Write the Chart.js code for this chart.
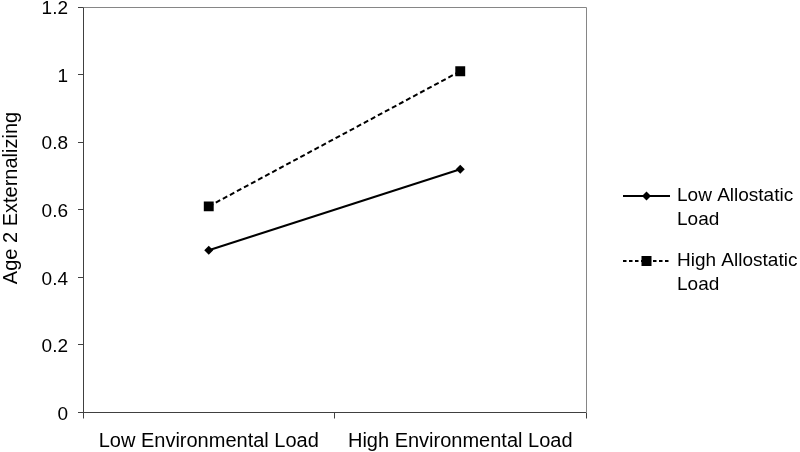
<!DOCTYPE html>
<html>
<head>
<meta charset="utf-8">
<script src="https://cdn.jsdelivr.net/npm/chart.js@4"></script>
<style>
html,body{margin:0;padding:0;background:#fff;}
#wrap{width:800px;height:452px;position:relative;}
</style>
</head>
<body>
<div id="wrap"><canvas id="c"></canvas></div>
<script>
const categories = ['Low Environmental Load', 'High Environmental Load'];
const lowAllostatic = [0.48, 0.72];
const highAllostatic = [0.61, 1.01];
const seriesNames = [['Low Allostatic', 'Load'], ['High Allostatic', 'Load']];
const yTitle = 'Age 2 Externalizing';
const yMin = 0, yMax = 1.2, yStep = 0.2;

const FONT = '"Liberation Sans", Arial, sans-serif';
const FS = 19;
const AXIS = '#404040';
const FRAME = '#868686';

const framePlugin = {
  id: 'frame',
  beforeDatasetsDraw(chart) {
    const a = chart.chartArea, ctx = chart.ctx;
    ctx.save();
    ctx.strokeStyle = FRAME;
    ctx.lineWidth = 1;
    ctx.beginPath();
    ctx.moveTo(Math.round(a.left) + 0.5, Math.round(a.top) + 0.5);
    ctx.lineTo(Math.round(a.right) + 0.5, Math.round(a.top) + 0.5);
    ctx.lineTo(Math.round(a.right) + 0.5, Math.round(a.bottom));
    ctx.stroke();
    ctx.restore();
  },
  afterDraw(chart) {
    const ctx = chart.ctx, a = chart.chartArea;
    ctx.save();
    ctx.fillStyle = '#000';
    ctx.font = '20px ' + FONT;
    ctx.textAlign = 'center';
    ctx.textBaseline = 'middle';
    ctx.translate(11, 198);
    ctx.rotate(-Math.PI / 2);
    ctx.fillText(yTitle, 0, 0);
    ctx.restore();

    const legendRows = [196, 261];
    chart.data.datasets.forEach((ds, i) => {
      const y = legendRows[i];
      const x0 = a.right + 37, x1 = a.right + 84;
      ctx.save();
      ctx.strokeStyle = ds.borderColor;
      ctx.lineWidth = ds.borderWidth;
      ctx.setLineDash(i === 0 ? [] : [3.5, 2.5]);
      ctx.beginPath();
      ctx.moveTo(x0, y); ctx.lineTo(x1, y);
      ctx.stroke();
      ctx.setLineDash([]);
      ctx.fillStyle = '#000';
      const xm = (x0 + x1) / 2;
      if (ds.pointStyle === 'rect') {
        ctx.fillRect(xm - 5, y - 5, 10, 10);
      } else {
        ctx.beginPath();
        ctx.moveTo(xm - 4.5, y); ctx.lineTo(xm, y - 4.5);
        ctx.lineTo(xm + 4.5, y); ctx.lineTo(xm, y + 4.5);
        ctx.closePath(); ctx.fill();
      }
      ctx.font = FS + 'px ' + FONT;
      ctx.textAlign = 'left';
      ctx.textBaseline = 'middle';
      seriesNames[i].forEach((line, k) => {
        ctx.fillText(line, x1 + 7, y + k * 24);
      });
      ctx.restore();
    });
  }
};

new Chart(document.getElementById('c'), {
  type: 'line',
  data: {
    labels: categories,
    datasets: [
      {
        label: seriesNames[0].join(' '),
        data: lowAllostatic,
        borderColor: '#000',
        backgroundColor: '#000',
        borderWidth: 2,
        pointStyle: 'rectRot',
        pointRadius: 4.5,
        pointHoverRadius: 4.5,
        pointBorderWidth: 0,
        fill: false,
        tension: 0
      },
      {
        label: seriesNames[1].join(' '),
        data: highAllostatic,
        borderColor: '#000',
        backgroundColor: '#000',
        borderWidth: 2,
        borderDash: [5, 3],
        pointStyle: 'rect',
        pointRadius: 7,
        pointHoverRadius: 7,
        pointBorderWidth: 0,
        fill: false,
        tension: 0
      }
    ]
  },
  options: {
    responsive: true,
    maintainAspectRatio: false,
    animation: false,
    events: [],
    layout: { padding: { left: 0, right: 214, top: 6, bottom: 0 } },
    plugins: {
      legend: { display: false },
      tooltip: { enabled: false },
      title: { display: false }
    },
    scales: {
      x: {
        type: 'category',
        offset: true,
        grid: {
          display: true,
          drawOnChartArea: false,
          drawTicks: true,
          tickLength: 6,
          color: AXIS,
          offset: true
        },
        border: { display: true, color: AXIS, width: 1 },
        ticks: {
          color: '#000',
          font: { family: FONT, size: 20 },
          padding: 11,
          maxRotation: 0,
          autoSkip: false
        },
        afterFit(scale) {
          scale.height = 39.5;
          scale.paddingLeft = 0; scale.paddingRight = 0;
        }
      },
      y: {
        min: yMin,
        max: yMax,
        grid: {
          display: true,
          drawOnChartArea: false,
          drawTicks: true,
          tickLength: 5,
          color: AXIS
        },
        border: { display: true, color: AXIS, width: 1 },
        ticks: {
          stepSize: yStep,
          color: '#000',
          font: { family: FONT, size: FS },
          padding: 10,
          labelOffset: 2,
          callback: v => String(Number(v.toFixed(1)))
        },
        afterFit(scale) {
          scale.width = 83;
          scale.paddingTop = 0; scale.paddingBottom = 0;
        }
      }
    }
  },
  plugins: [framePlugin]
});
</script>
</body>
</html>
